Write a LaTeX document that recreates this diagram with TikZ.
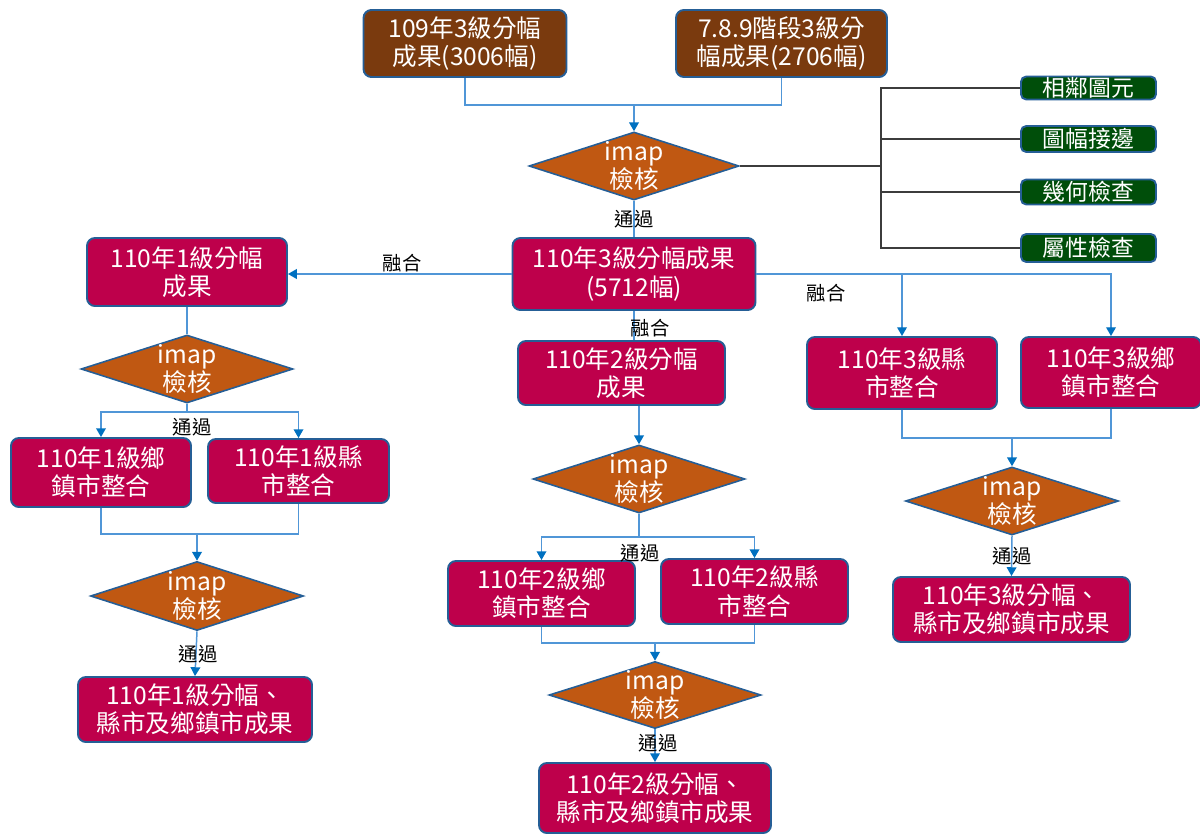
\documentclass[tikz,border=0pt]{standalone}
\usepackage{fontspec}
\setmainfont{Noto Sans CJK TC}
\usetikzlibrary{shapes.geometric,arrows.meta}

\definecolor{edgeblue}{RGB}{37,94,150}
\definecolor{boxbrown}{RGB}{122,58,14}
\definecolor{boxred}{RGB}{190,0,75}
\definecolor{boxgreen}{RGB}{0,78,10}
\definecolor{diaorange}{RGB}{192,88,18}
\definecolor{lineblue}{RGB}{80,150,215}
\definecolor{tipblue}{RGB}{0,112,192}
\definecolor{treegrey}{RGB}{60,60,60}

\tikzset{
  bx/.style={draw=edgeblue, line width=1.1pt, rounded corners=4.5pt, inner sep=0pt,
             align=center, text=white, font=\fontsize{14}{16}\selectfont},
  sz/.style 2 args={minimum width=#1*0.02cm, minimum height=#2*0.02cm},
  brownbx/.style={bx, fill=boxbrown},
  redbx/.style={bx, fill=boxred},
  greenbx/.style={bx, fill=boxgreen, rounded corners=3pt, font=\fontsize{13}{15}\selectfont},
  dia/.style={diamond, draw=edgeblue, line width=0.9pt, fill=diaorange, inner sep=0pt},
  diatxt/.style={text=white, align=center, font=\fontsize{14}{16}\selectfont, inner sep=0pt},
  lbl/.style={text=black, font=\fontsize{11}{13}\selectfont, inner sep=0pt},
  conn/.style={draw=lineblue, line width=0.85pt},
  arr/.style={conn, -{Triangle[length=5pt,width=5.5pt,color=tipblue]}},
  tree/.style={draw=treegrey, line width=0.85pt},
}

\begin{document}
\begin{tikzpicture}[x=0.02cm, y=-0.02cm]
\useasboundingbox (0,0) rectangle (1200,835);

% ---------- top sources ----------
\node[brownbx, sz={203}{67}] (A) at (465,43.5) {109年3級分幅\\成果(3006幅)};
\node[brownbx, sz={211}{67}] (B) at (781.5,43.5) {7.8.9階段3級分\\幅成果(2706幅)};

\node[dia, sz={210}{68}] (d0) at (634,166) {};
\node[diatxt] at (d0) {imap\\檢核};

% ---------- check items ----------
\node[greenbx, sz={135}{23}] (g1) at (1088.5,88) {相鄰圖元};
\node[greenbx, sz={135}{26}] (g2) at (1088.5,139) {圖幅接邊};
\node[greenbx, sz={135}{25}] (g3) at (1088.5,192) {幾何檢查};
\node[greenbx, sz={135}{28}] (g4) at (1088.5,248) {屬性檢查};

% ---------- level 3 sheet result ----------
\node[redbx, sz={243}{72}] (C) at (634,274) {110年3級分幅成果\\(5712幅)};

% ---------- left column: level 1 ----------
\node[redbx, sz={200}{68}] (L1) at (187,272) {110年1級分幅\\成果};
\node[dia, sz={212}{68}] (d1) at (187,369) {};
\node[diatxt] at (d1) {imap\\檢核};
\node[redbx, sz={180}{69}] (L2) at (101,472.5) {110年1級鄉\\鎮市整合};
\node[redbx, sz={181}{64}] (L3) at (298.5,471) {110年1級縣\\市整合};
\node[dia, sz={213}{69}] (d4) at (197,596) {};
\node[diatxt] at (d4) {imap\\檢核};
\node[redbx, sz={234}{65}] (L4) at (195,709.5) {110年1級分幅、\\縣市及鄉鎮市成果};

% ---------- middle column: level 2 ----------
\node[redbx, sz={207}{64}] (M1) at (621.5,373) {110年2級分幅\\成果};
\node[dia, sz={212}{68}] (d2) at (639,479) {};
\node[diatxt] at (d2) {imap\\檢核};
\node[redbx, sz={187}{65}] (M2) at (541.5,593.5) {110年2級鄉\\鎮市整合};
\node[redbx, sz={187}{65}] (M3) at (754.5,591.5) {110年2級縣\\市整合};
\node[dia, sz={212}{67}] (d5) at (655,695) {};
\node[diatxt] at (d5) {imap\\檢核};
\node[redbx, sz={232}{70}] (M4) at (655,798) {110年2級分幅、\\縣市及鄉鎮市成果};

% ---------- right column: level 3 ----------
\node[redbx, sz={190}{72}] (R1) at (902,373) {110年3級縣\\市整合};
\node[redbx, sz={180}{71}] (R2) at (1111,372.5) {110年3級鄉\\鎮市整合};
\node[dia, sz={213}{68}] (d3) at (1012,501) {};
\node[diatxt] at (d3) {imap\\檢核};
\node[redbx, sz={237}{65}] (R3) at (1011.5,609.5) {110年3級分幅、\\縣市及鄉鎮市成果};

% ---------- junction points ----------
\coordinate (j0) at (634,105);
\coordinate (trunk) at (881,166);
\coordinate (b1) at (187,412);
\coordinate (j4) at (197,534);
\coordinate (b2) at (639,537);
\coordinate (j5) at (655,643);
\coordinate (j3) at (1012,438);

% ---------- connectors ----------
\draw[conn] (A.south) |- (j0) -| (B.south);
\draw[arr] (j0) -- (d0.north);
\draw[conn] (d0.south) -- (C.north);

\draw[tree] (d0.east) -- (trunk);
\draw[tree] (g1.west) -| (trunk);
\draw[tree] (g4.west) -| (trunk);
\draw[tree] (g2.west) -- (trunk |- g2.west);
\draw[tree] (g3.west) -- (trunk |- g3.west);

% left branch
\draw[arr] (C.west) -- (C.west -| L1.east);
\draw[conn] (L1.south) -- (d1.north);
\draw[conn] (d1.south) -- (b1);
\draw[arr] (b1) -| (L2.north);
\draw[arr] (b1) -| (L3.north);
\draw[conn] (L2.south) |- (j4) -| (L3.south);
\draw[arr] (j4) -- (d4.north);
\draw[arr] (d4.south) -- (L4.north);

% middle branch
\draw[conn] (C.south) -- (C.south |- M1.north);
\draw[arr] (d2.north |- M1.south) -- (d2.north);
\draw[conn] (d2.south) -- (b2);
\draw[arr] (b2) -| (M2.north);
\draw[arr] (b2) -| (M3.north);
\draw[conn] (M2.south) |- (j5) -| (M3.south);
\draw[arr] (j5) -- (d5.north);
\draw[arr] (d5.south) -- (M4.north);

% right branch
\draw[arr] (C.east) -| (R2.north);
\draw[arr] (C.east -| R1.north) -- (R1.north);
\draw[conn] (R1.south) |- (j3) -| (R2.south);
\draw[arr] (j3) -- (d3.north);
\draw[arr] (d3.south) -- (R3.north);

% ---------- labels ----------
\node[lbl] (p0) at (634,219) {通過};
\node[lbl] (p1) at (192,427) {通過};
\node[lbl] (p4) at (198,654) {通過};
\node[lbl] (p2) at (640,553) {通過};
\node[lbl] (p5) at (658,743) {通過};
\node[lbl] (p3) at (1012,556) {通過};
\node[lbl] (f1) at (402,263) {融合};
\node[lbl] (f2) at (826,293) {融合};
\node[lbl] (f3) at (650,328) {融合};
\end{tikzpicture}
\end{document}
